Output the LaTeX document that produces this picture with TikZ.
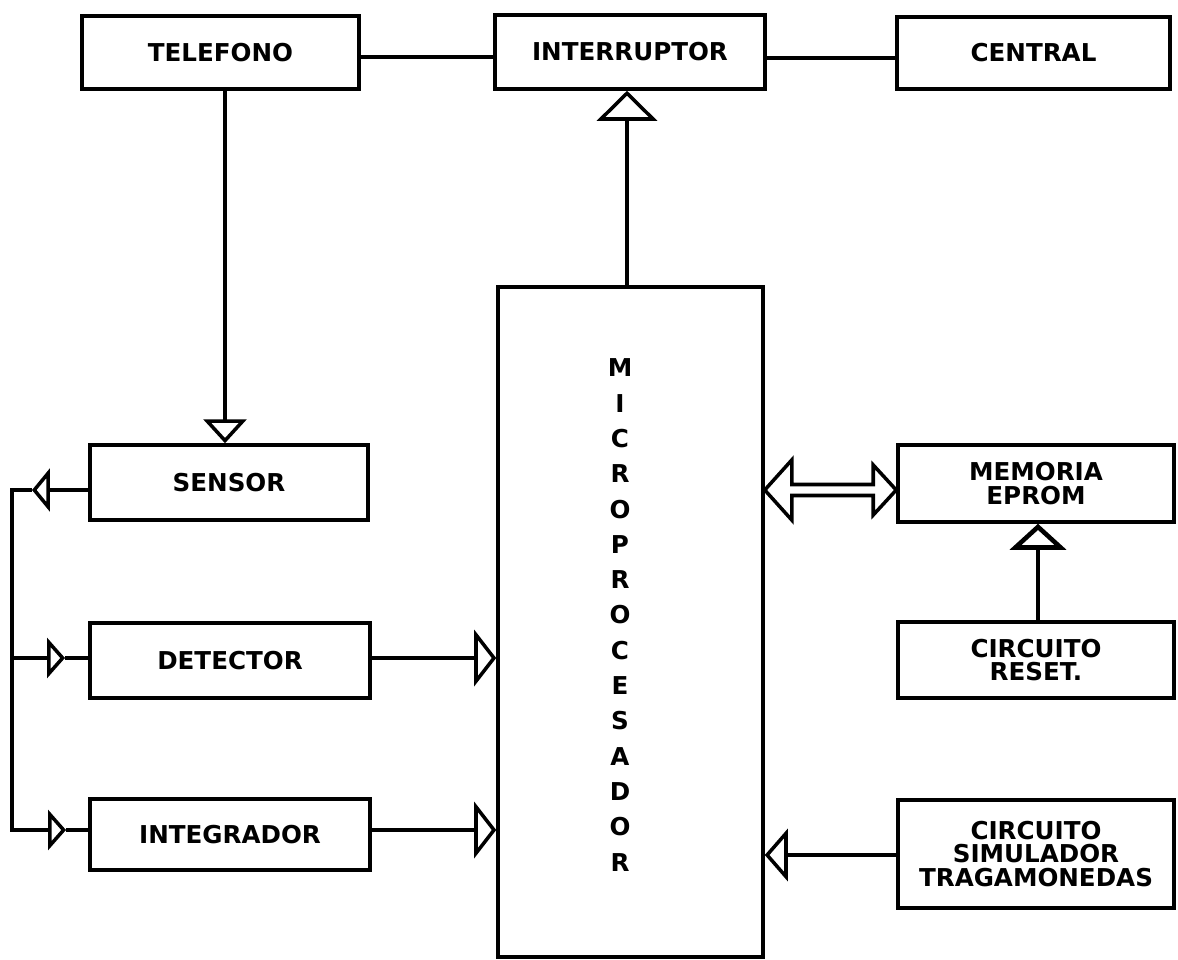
\documentclass[tikz,border=0pt]{standalone}
\usepackage{fontspec}
\setmainfont{DejaVu Sans}
\usetikzlibrary{arrows.meta,calc}
\begin{document}
\begin{tikzpicture}[x=0.02cm,y=-0.02cm,
  box/.style={draw, line width=2pt, inner sep=0pt, align=center,
    font=\bfseries\fontsize{14}{13.5}\selectfont},
  wh/.style 2 args={minimum width=#1*0.02cm, minimum height=#2*0.02cm},
  conn/.style={line width=2pt},
  tipInt/.style={-{Triangle[open,length=0.6cm,width=1.2cm]}},
  tipSen/.style={-{Triangle[open,length=0.48cm,width=0.86cm]}},
  tipLeft/.style={-{Triangle[open,length=0.36cm,width=0.86cm]}},
  tipSmall/.style={-{Triangle[open,length=0.36cm,width=0.8cm]}},
  tipMic/.style={-{Triangle[open,length=0.44cm,width=1.12cm]}},
  tipRst/.style={-{Triangle[open,length=0.52cm,width=1.12cm]}},
  tipTrg/.style={-{Triangle[open,length=0.46cm,width=1.04cm]}},
  vtext/.style={align=center, inner sep=0pt, font=\bfseries\fontsize{14}{20.1}\selectfont}
]
\useasboundingbox[fill=white] (0,0) rectangle (1178,960);

% boxes
\node[box, wh={277}{73}] (tel) at (220.5,52.5) {TELEFONO};
\node[box, wh={270}{74}] (int) at (630,52) {INTERRUPTOR};
\node[box, wh={273}{72}] (cen) at (1033.5,53) {CENTRAL};
\node[box, wh={278}{75}] (sen) at (229,482.5) {SENSOR};
\node[box, wh={280}{75}] (det) at (230,660.5) {DETECTOR};
\node[box, wh={280}{71}] (itg) at (230,834.5) {INTEGRADOR};
\node[box, wh={265}{670}] (mic) at (630.5,622) {};
\node[vtext] (mtext) at (620,615) {M\\I\\C\\R\\O\\P\\R\\O\\C\\E\\S\\A\\D\\O\\R};
\node[box, wh={276}{77}] (mem) at (1036,483.5) {MEMORIA\\EPROM};
\node[box, wh={276}{76}] (rst) at (1036,660) {CIRCUITO\\RESET.};
\node[box, wh={276}{108}] (trg) at (1036,854) {CIRCUITO\\SIMULADOR\\TRAGAMONEDAS};

% top row
\draw[conn] (tel.east |- 0,57) -- (int.west |- 0,57);
\draw[conn] (int.east |- 0,58) -- (cen.west |- 0,58);
\draw[conn, tipInt] (mic.north -| 627,0) -- (int.south -| 627,0);
\draw[conn, tipSen] (tel.south -| 225,0) -- (sen.north -| 225,0);

% left bus
\coordinate (sa) at (32,490);
\coordinate (bt) at (12,490);
\coordinate (bb) at (12,830);
\coordinate (da) at (65,658);
\coordinate (ia) at (66,830);
\draw[conn, tipLeft] (sen.west |- sa) -- (sa);
\draw[conn, tipSmall] (sa) -- (bt) -- (bb) -- (ia);
\draw[conn, tipSmall] (bt |- da) -- (da);
\draw[conn] (da) -- (det.west |- da);
\draw[conn] (ia) -- (itg.west |- ia);

% inputs to microprocessor
\draw[conn, tipMic] (det.east |- 0,658) -- (mic.west |- 0,658);
\draw[conn, tipMic] (itg.east |- 0,830) -- (mic.west |- 0,830);
\draw[conn, tipTrg] (trg.west |- 0,855) -- (mic.east |- 0,855);

% reset to memory
\draw[line width=2.6pt, tipRst] (rst.north -| 1038,0) -- (mem.south -| 1038,0);

% double arrow micro <-> memory
\coordinate (dl) at ($(mic.east |- mem.west)+(0,6.5)$);
\coordinate (dr) at ($(mem.west)+(0,6.5)$);
\draw[conn, line join=miter] (dl) -- ++(27,-30) -- ++(0,24.5)
  -- ($(dr)+(-23,-5.5)$) -- ++(0,-19.5) -- (dr) -- ++(-23,25) -- ++(0,-19.5)
  -- ($(dl)+(27,5.5)$) -- ++(0,24.5) -- cycle;
\end{tikzpicture}
\end{document}
